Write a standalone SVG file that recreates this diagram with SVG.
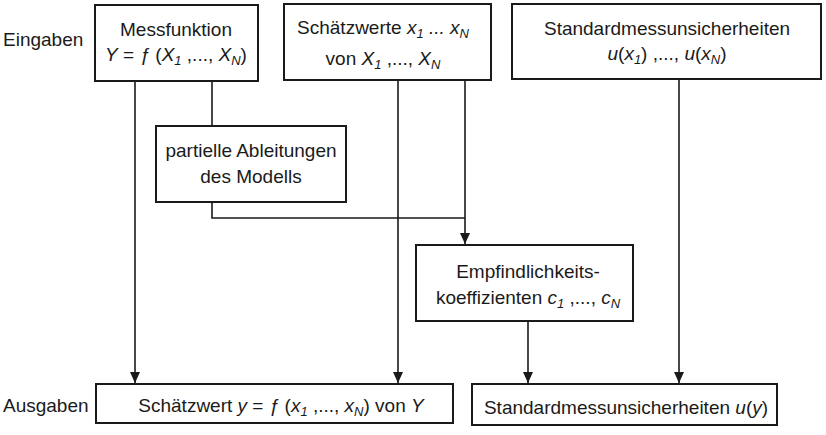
<svg xmlns="http://www.w3.org/2000/svg" width="826" height="435" viewBox="0 0 826 435">
<style>
text{font-family:"Liberation Sans",Arial,sans-serif;font-size:19px;fill:#1a1a1a}
.m{text-anchor:middle}
.i{font-style:italic}
.s{font-size:13px;font-style:italic}
.box{fill:#fff;stroke:#1a1a1a;stroke-width:2}
.ln{fill:none;stroke:#1a1a1a;stroke-width:1.6}
</style>
<defs>
<marker id="ah" markerUnits="userSpaceOnUse" markerWidth="10" markerHeight="12" refX="5" refY="11" orient="0" viewBox="0 0 10 12">
<path d="M0,0 L10,0 L5,11 Z" fill="#1a1a1a"/>
</marker>
</defs>
<rect width="826" height="435" fill="#fff"/>
<text x="3" y="46">Eingaben</text>
<text x="3" y="412">Ausgaben</text>
<g id="connectors">
<line class="ln" x1="135" y1="81" x2="135" y2="383" marker-end="url(#ah)"/>
<line class="ln" x1="212" y1="81" x2="212" y2="126"/>
<polyline class="ln" points="212,202 212,218 465,218"/>
<line class="ln" x1="398" y1="80" x2="398" y2="383" marker-end="url(#ah)"/>
<line class="ln" x1="465" y1="80" x2="465" y2="244" marker-end="url(#ah)"/>
<line class="ln" x1="679" y1="79" x2="679" y2="383" marker-end="url(#ah)"/>
<line class="ln" x1="528" y1="321" x2="528" y2="383" marker-end="url(#ah)"/>
</g>
<g id="messfunktion">
<rect class="box" x="95" y="5" width="163" height="76"/>
<text class="m" x="176" y="36">Messfunktion</text>
<text class="m" x="176" y="61"><tspan class="i">Y</tspan> = <tspan class="i">ƒ</tspan> (<tspan class="i">X</tspan><tspan class="s" dy="4">1</tspan><tspan dy="-4"> ,..., </tspan><tspan class="i">X</tspan><tspan class="s" dy="4">N</tspan><tspan dy="-4">)</tspan></text>
</g>
<g id="schaetzwerte">
<rect class="box" x="284" y="4" width="207" height="76"/>
<text class="m" x="383" y="34">Schätzwerte <tspan class="i">x</tspan><tspan class="s" dy="4">1</tspan><tspan class="i" dy="-4"> ... x</tspan><tspan class="s" dy="4">N</tspan></text>
<text class="m" x="383" y="65">von <tspan class="i">X</tspan><tspan class="s" dy="4">1</tspan><tspan dy="-4"> ,..., </tspan><tspan class="i">X</tspan><tspan class="s" dy="4">N</tspan></text>
</g>
<g id="standardmessunsicherheiten-in">
<rect class="box" x="512" y="4" width="309" height="75"/>
<text class="m" x="667" y="35">Standardmessunsicherheiten</text>
<text class="m" x="667" y="60"><tspan class="i">u</tspan>(<tspan class="i">x</tspan><tspan class="s" dy="4">1</tspan><tspan dy="-4">) ,..., </tspan><tspan class="i">u</tspan>(<tspan class="i">x</tspan><tspan class="s" dy="4">N</tspan><tspan dy="-4">)</tspan></text>
</g>
<g id="partielle">
<rect class="box" x="156" y="126" width="190" height="76"/>
<text class="m" x="251" y="157">partielle Ableitungen</text>
<text class="m" x="251" y="183">des Modells</text>
</g>
<g id="empfindlichkeit">
<rect class="box" x="416" y="245" width="217" height="76"/>
<text class="m" x="528" y="278">Empfindlichkeits-</text>
<text class="m" x="528" y="304">koeffizienten <tspan class="i">c</tspan><tspan class="s" dy="4">1</tspan><tspan dy="-4"> ,..., </tspan><tspan class="i">c</tspan><tspan class="s" dy="4">N</tspan></text>
</g>
<g id="schaetzwert-y">
<rect class="box" x="96" y="384" width="357" height="39"/>
<text class="m" x="281" y="412">Schätzwert <tspan class="i">y</tspan> = <tspan class="i">ƒ</tspan> (<tspan class="i">x</tspan><tspan class="s" dy="4">1</tspan><tspan dy="-4"> ,..., </tspan><tspan class="i">x</tspan><tspan class="s" dy="4">N</tspan><tspan dy="-4">) von </tspan><tspan class="i">Y</tspan></text>
</g>
<g id="standardmessunsicherheit-y">
<rect class="box" x="472" y="384" width="305" height="41"/>
<text class="m" x="626" y="414">Standardmessunsicherheiten <tspan class="i">u</tspan>(<tspan class="i">y</tspan>)</text>
</g>
</svg>
